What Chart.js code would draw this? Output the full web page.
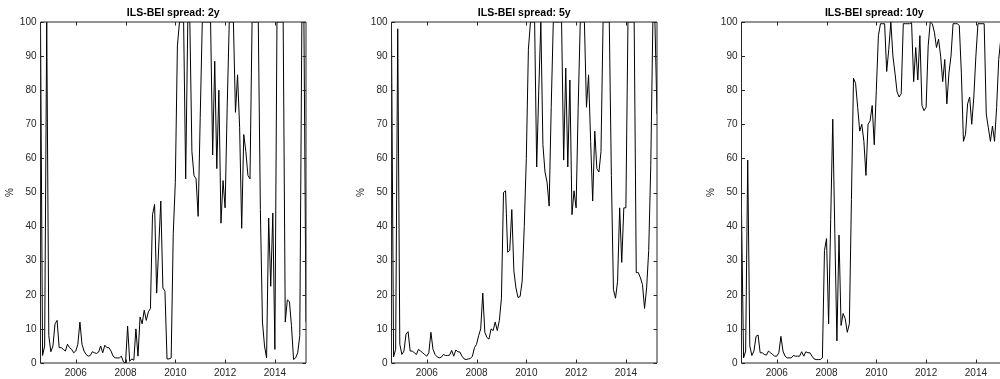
<!DOCTYPE html>
<html><head><meta charset="utf-8">
<script src="https://cdn.jsdelivr.net/npm/chart.js@4.4.1/dist/chart.umd.min.js"></script>
<style>
html,body{margin:0;padding:0;background:#fff;overflow:hidden;width:1000px;height:379px;position:relative;}
.panel{position:absolute;top:0;}
</style></head><body>
<canvas id="c1" class="panel" width="310" height="379" style="left:0px"></canvas>
<canvas id="c2" class="panel" width="310" height="379" style="left:351px"></canvas>
<canvas id="c3" class="panel" width="310" height="379" style="left:701px"></canvas>
<script>
// month-end observations, Jul 2004 .. Mar 2015
const MONTHS = [
  '2004-07','2004-08','2004-09','2004-10','2004-11','2004-12',
  '2005-01','2005-02','2005-03','2005-04','2005-05','2005-06','2005-07','2005-08','2005-09','2005-10','2005-11','2005-12',
  '2006-01','2006-02','2006-03','2006-04','2006-05','2006-06','2006-07','2006-08','2006-09','2006-10','2006-11','2006-12',
  '2007-01','2007-02','2007-03','2007-04','2007-05','2007-06','2007-07','2007-08','2007-09','2007-10','2007-11','2007-12',
  '2008-01','2008-02','2008-03','2008-04','2008-05','2008-06','2008-07','2008-08','2008-09','2008-10','2008-11','2008-12',
  '2009-01','2009-02','2009-03','2009-04','2009-05','2009-06','2009-07','2009-08','2009-09','2009-10','2009-11','2009-12',
  '2010-01','2010-02','2010-03','2010-04','2010-05','2010-06','2010-07','2010-08','2010-09','2010-10','2010-11','2010-12',
  '2011-01','2011-02','2011-03','2011-04','2011-05','2011-06','2011-07','2011-08','2011-09','2011-10','2011-11','2011-12',
  '2012-01','2012-02','2012-03','2012-04','2012-05','2012-06','2012-07','2012-08','2012-09','2012-10','2012-11','2012-12',
  '2013-01','2013-02','2013-03','2013-04','2013-05','2013-06','2013-07','2013-08','2013-09','2013-10','2013-11','2013-12',
  '2014-01','2014-02','2014-03','2014-04','2014-05','2014-06','2014-07','2014-08','2014-09','2014-10','2014-11','2014-12',
  '2015-01','2015-02','2015-03'
];
const X_MIN = '2004-07';
const X_MAX = '2015-03';
const X_TICKS = [2006, 2008, 2010, 2012, 2014];
const Y_TICKS = [0, 10, 20, 30, 40, 50, 60, 70, 80, 90, 100];
const TITLES = ['ILS-BEI spread: 2y', 'ILS-BEI spread: 5y', 'ILS-BEI spread: 10y'];
const Y_LABEL = '%';

const SPREAD_2Y = [
  100, 2.2, 5, 100, 8, 3.3, 5, 11.5, 12.5, 4.5,
  4.5, 4, 3.5, 5.5, 4.5, 4, 3, 3.5, 5.5, 12,
  5.5, 3.5, 2.5, 2, 2.2, 3.3, 3, 2.8, 3.2, 5,
  3, 5.2, 4.5, 4.5, 3.5, 2, 1.5, 1.5, 1.5, 2,
  0.3, 0, 10.8, 0.5, 1.2, 0.8, 10, 2, 13.5, 11.5,
  15.5, 12.5, 15, 16, 43.5, 46.5, 20.5, 34, 47.5, 22,
  21, 1.2, 1.2, 1.5, 38, 53, 93, 100, 100, 100,
  54, 100, 100, 62, 55, 54, 43, 72, 100, 100,
  100, 100, 100, 61, 88.5, 57, 80, 41, 53.5, 45.5,
  75, 100, 100, 100, 73.5, 84.5, 69, 39.5, 67, 62,
  55, 54, 100, 100, 100, 100, 45, 12, 5, 1.5,
  42.5, 22.5, 44, 4, 100, 100, 100, 100, 12, 18.5,
  18, 11, 1, 1.5, 3, 8, 100, 100, 12
];
const SPREAD_5Y = [
  96.5, 1.8, 4, 98, 5.5, 2.5, 3.5, 8.5, 9.2, 3.5,
  3.5, 3, 2.5, 4, 3.5, 3, 2.5, 2, 3, 9,
  4, 2.5, 1.8, 1.5, 1.7, 2.5, 2.2, 2.2, 2.3, 3.7,
  2, 3.8, 3.3, 3.2, 2, 1.2, 1, 1.2, 1.3, 2,
  4.5, 5.5, 8, 10, 20.5, 9, 7.5, 7, 10, 9.5,
  12, 9.5, 12.5, 19, 50, 50.5, 32.5, 33, 45, 27,
  22, 19.2, 19.5, 24, 40, 60, 92, 100, 100, 100,
  57.5, 80, 100, 64, 56, 53, 46, 75, 100, 100,
  100, 100, 100, 59.5, 86.5, 57.5, 83, 43.5, 50.5, 45.5,
  75, 100, 100, 100, 75, 84.5, 65, 47.5, 68, 57,
  56, 62, 100, 100, 100, 100, 55, 21.5, 19, 24,
  45.5, 29.5, 45.5, 45.5, 100, 100, 100, 100, 26.5, 26.5,
  25, 23, 16, 22, 33, 58, 100, 100, 73
];
const SPREAD_10Y = [
  44.5, 1.5, 3.5, 59.5, 5, 2.2, 3.5, 7.8, 8.2, 3,
  3, 2.5, 2.3, 3.5, 3, 2.5, 2, 2, 3, 7.8,
  3.5, 2, 1.5, 1.5, 1.5, 2.2, 2, 2, 2, 3.3,
  2, 3.3, 3, 3, 2, 1.2, 1, 1, 1, 1.5,
  33, 36.5, 11.5, 42, 71.5, 38, 6.5, 37.5, 11, 14.5,
  13, 9, 11.5, 48, 83.5, 82, 75, 68, 70, 65,
  55, 70, 71, 75.5, 64, 80, 96, 99.5, 99.5, 99.5,
  85.5, 92, 100, 90, 85, 79.5, 78, 79, 99.5, 99.5,
  99.5, 99.5, 99.8, 82.5, 92.5, 83, 96, 75.5, 74, 75,
  93, 100, 99.5, 97, 92.5, 95, 90, 82.5, 89, 76,
  85, 90, 99.5, 99.5, 99.5, 99, 85, 65, 67, 76,
  78, 70, 78, 90, 99.5, 99.5, 99.5, 99.5, 73, 69,
  65, 69.5, 65, 75, 89, 95, 98, 95, 90
];

const AXIS_COLOR = '#262626';
const FONT = "'Liberation Sans', Arial, Helvetica, sans-serif";
const TICK_LEN = 3.5;

function monthToYear(m) { const p = m.split('-').map(Number); return p[0] + p[1] / 12; }
const XS = MONTHS.map(monthToYear);

const boxTicks = {
  id: 'boxTicks',
  afterDraw(chart) {
    const ctx = chart.ctx, a = chart.chartArea, x = chart.scales.x, y = chart.scales.y;
    ctx.save();
    ctx.strokeStyle = AXIS_COLOR;
    ctx.lineWidth = 1;
    ctx.beginPath();
    ctx.rect(a.left, a.top, a.right - a.left, a.bottom - a.top);
    y.ticks.forEach(t => {
      const py = Math.round(y.getPixelForValue(t.value)) + 0.5;
      ctx.moveTo(a.left, py); ctx.lineTo(a.left + TICK_LEN, py);
      ctx.moveTo(a.right, py); ctx.lineTo(a.right - TICK_LEN, py);
    });
    x.ticks.forEach(t => {
      const px = Math.round(x.getPixelForValue(t.value)) + 0.5;
      ctx.moveTo(px, a.bottom); ctx.lineTo(px, a.bottom - TICK_LEN);
      ctx.moveTo(px, a.top); ctx.lineTo(px, a.top + TICK_LEN);
    });
    ctx.stroke();
    ctx.restore();
  }
};

function makeChart(id, title, values) {
  const pts = values.map((v, i) => ({ x: XS[i], y: v }));
  return new Chart(document.getElementById(id), {
    type: 'line',
    data: { datasets: [{ data: pts, borderColor: '#000', borderWidth: 1, pointRadius: 0, tension: 0, fill: false }] },
    options: {
      responsive: false,
      animation: false,
      events: [],
      layout: { padding: { left: 0, right: 4, top: 0, bottom: 0 } },
      plugins: {
        legend: { display: false },
        tooltip: { enabled: false },
        title: {
          display: true, text: title, fullSize: false, color: '#000',
          font: { family: FONT, size: 10.5, weight: 'bold', lineHeight: 1.2 },
          padding: { top: 6.4, bottom: 3 }
        }
      },
      scales: {
        x: {
          type: 'linear',
          min: monthToYear(X_MIN), max: monthToYear(X_MAX),
          grid: { display: false, drawTicks: false },
          border: { display: false },
          afterBuildTicks: s => { s.ticks = X_TICKS.map(v => ({ value: v })); },
          afterFit: s => { s.height = 16; },
          ticks: { color: AXIS_COLOR, padding: 4, maxRotation: 0, autoSkip: false,
                   font: { family: FONT, size: 10 }, callback: v => String(v) }
        },
        y: {
          min: 0, max: 100,
          grid: { display: false, drawTicks: false },
          border: { display: false },
          afterBuildTicks: s => { s.ticks = Y_TICKS.map(v => ({ value: v })); },
          afterFit: s => { s.width = 40.5; },
          ticks: { color: AXIS_COLOR, padding: 4, font: { family: FONT, size: 10 }, callback: v => String(v) },
          title: { display: true, text: Y_LABEL, color: AXIS_COLOR, font: { family: FONT, size: 10 }, padding: { top: 4, bottom: 4 } }
        }
      }
    },
    plugins: [boxTicks]
  });
}

makeChart('c1', TITLES[0], SPREAD_2Y);
makeChart('c2', TITLES[1], SPREAD_5Y);
makeChart('c3', TITLES[2], SPREAD_10Y);
</script>
</body></html>
